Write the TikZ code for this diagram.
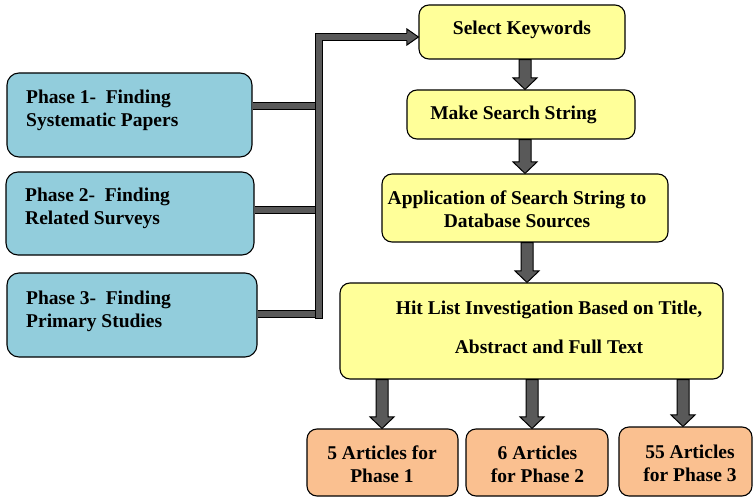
\documentclass[tikz,border=0pt]{standalone}
\usepackage{fontspec}
\setmainfont{Liberation Serif}
\usetikzlibrary{calc}

\definecolor{phaseblue}{HTML}{92CDDC}
\definecolor{stepyellow}{HTML}{FFFF99}
\definecolor{resultorange}{HTML}{FAC090}
\definecolor{pipegray}{HTML}{595959}

\tikzset{
  boxbase/.style={draw=black, line width=1.1pt, inner sep=0pt},
  phasebox/.style={boxbase, fill=phaseblue, rounded corners=12pt},
  stepbox/.style={boxbase, fill=stepyellow, rounded corners=10pt},
  resultbox/.style={boxbase, fill=resultorange, rounded corners=10pt},
  txt/.style={font=\bfseries\fontsize{19.5}{23}\selectfont, inner sep=0pt},
  pipe/.style={draw=black, line width=1pt, double=pipegray, double distance=5.5pt},
  blockarrow/.style={fill=pipegray, draw=black, line width=1pt, line join=miter},
}

% box from its corner coordinates: name, style, x1, y1, x2, y2
\newcommand\placebox[6]{%
  \node[#2, minimum width={#5-#3}, minimum height={#6-#4}] (#1)
    at ({(#3+#5)/2},{(#4+#6)/2}) {};}

% downward block arrow from one point to a point straight below it
\newcommand\blockdown[2]{%
  \filldraw[blockarrow] let \p1=#1, \p2=#2 in
    (\x1-6pt,\y1) -- (\x1-6pt,\y2+11.5pt) -- (\x1-12pt,\y2+11.5pt) --
    (\x1,\y2) -- (\x1+12pt,\y2+11.5pt) -- (\x1+6pt,\y2+11.5pt) --
    (\x1+6pt,\y1) -- cycle;}

% rightward arrow head ending at the given point
\newcommand\headright[1]{%
  \filldraw[blockarrow] let \p1=#1 in
    (\x1-11.5pt,\y1+3.75pt) -- (\x1-11.5pt,\y1+8pt) -- (\x1,\y1) --
    (\x1-11.5pt,\y1-8pt) -- (\x1-11.5pt,\y1-3.75pt);}

\begin{document}
\begin{tikzpicture}[x=1pt, y=-1pt]
\useasboundingbox (0,0) rectangle (754,497);

% phase boxes on the left
\placebox{p1}{phasebox}{7}{73}{252}{157}
\placebox{p2}{phasebox}{6}{172}{254}{255}
\placebox{p3}{phasebox}{7}{273}{257}{357}
\node[txt, anchor=west, align=left] (p1t) at (26,110.5) {Phase 1-~ Finding\\Systematic Papers};
\node[txt, anchor=west, align=left] (p2t) at (25,208) {Phase 2-~ Finding\\Related Surveys};
\node[txt, anchor=west, align=left] (p3t) at (26,311) {Phase 3-~ Finding\\Primary Studies};

% search steps
\placebox{kw}{stepbox}{419}{5}{625}{59}
\placebox{ms}{stepbox}{407}{90}{635}{139}
\placebox{app}{stepbox}{382}{174}{668}{242}
\placebox{hit}{stepbox}{340}{283}{723}{379}
\node[txt] (kwt) at (522,30) {Select Keywords};
\node[txt] (mst) at (513.5,114.5) {Make Search String};
\node[txt, align=center] (appt) at (517,209.5) {Application of Search String to\\Database Sources};
\node[txt, align=center] (hitt) at (549,327) {Hit List Investigation Based on Title,\\[16pt]Abstract and Full Text};

% results
\placebox{r1}{resultbox}{307}{429}{458}{496}
\placebox{r2}{resultbox}{466}{429}{608}{496}
\placebox{r3}{resultbox}{619}{427}{752}{496}
\node[txt, align=center] (r1t) at (382,464) {5 Articles for\\Phase 1};
\node[txt, align=center] (r2t) at (537.5,464) {6 Articles\\for Phase 2};
\node[txt, align=center] (r3t) at (690,463) {55 Articles\\for Phase 3};

% collecting pipe from the phases to the first step
\coordinate (trunkbot) at (319,318);
\coordinate (trunktop) at (319,37);
\draw[pipe] ([yshift=9pt]p1.east) -- ([yshift=9pt]p1.east -| trunkbot);
\draw[pipe] ([yshift=3.5pt]p2.east) -- ([yshift=3.5pt]p2.east -| trunkbot);
\draw[pipe] ([yshift=1pt]p3.east) -- ([yshift=1pt]p3.east -| trunkbot);
\draw[pipe] (trunkbot) -- (trunktop) -- ([xshift=-11pt]trunktop -| kw.west);
\draw[black, line width=1pt] ([xshift=-3.75pt]trunkbot) -- ([xshift=3.75pt]trunkbot);
\headright{(trunktop -| kw.west)}

% flow between the steps
\blockdown{($(kw.south)+(3,0)$)}{($(kw.south |- ms.north)+(3,0)$)}
\blockdown{($(ms.south)+(4,0)$)}{($(ms.south |- app.north)+(4,0)$)}
\blockdown{($(app.south)+(2,0)$)}{($(app.south |- hit.north)+(2,0)$)}
\blockdown{(hit.south -| r1t)}{(r1.north -| r1t)}
\blockdown{($(hit.south -| r2.north)+(-5,0)$)}{($(r2.north)+(-5,0)$)}
\blockdown{($(hit.south -| r3.north)+(-2.5,0)$)}{($(r3.north)+(-2.5,0)$)}
\end{tikzpicture}
\end{document}
